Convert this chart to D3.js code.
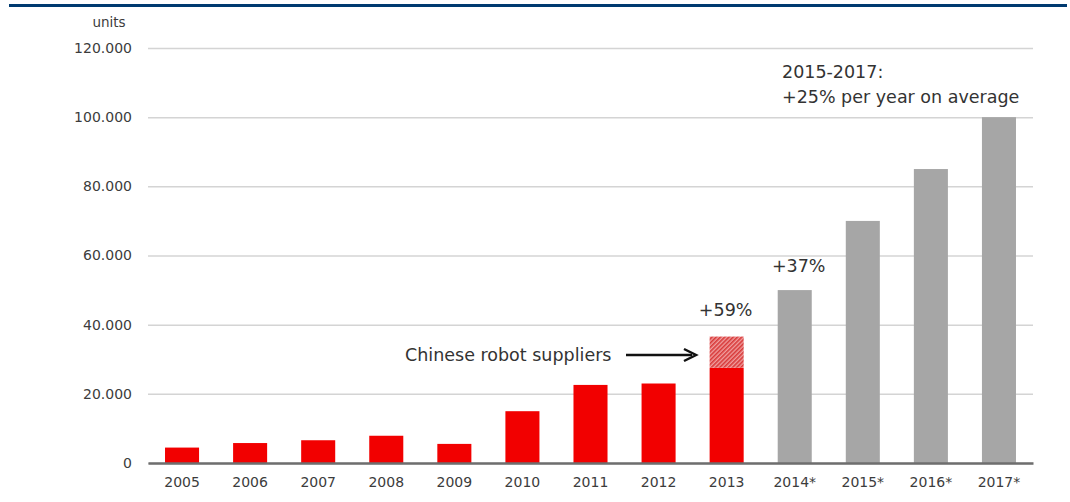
<!DOCTYPE html>
<html>
<head>
<meta charset="utf-8">
<script src="https://d3js.org/d3.v7.min.js"></script>
<style>
  body { margin: 0; background: #fff; }
  text { font-family: "DejaVu Sans", "Liberation Sans", Arial, sans-serif; }
</style>
</head>
<body>
<script>
// data
const years = ["2005","2006","2007","2008","2009","2010","2011","2012","2013","2014*","2015*","2016*","2017*"];
const units = [4461, 5770, 6581, 7879, 5525, 14978, 22577, 22987, 36560, 50000, 70000, 85000, 100000];
const chineseShare = [0, 0, 0, 0, 0, 0, 0, 0, 9000, 0, 0, 0, 0];   // hatched part of 2013
const forecast = [false,false,false,false,false,false,false,false,false,true,true,true,true];
const yTicks = [0, 20000, 40000, 60000, 80000, 100000, 120000];
const tickLabels = ["0","20.000","40.000","60.000","80.000","100.000","120.000"];

const width = 1070, height = 502;
const mLeft = 148, mRight = 1033, mTop = 48, mBottom = 463;

const svg = d3.select("body").append("svg")
    .attr("width", width)
    .attr("height", height);

// hatch pattern for the chinese suppliers part
const defs = svg.append("defs");
const pat = defs.append("pattern")
    .attr("id", "hatch")
    .attr("patternUnits", "userSpaceOnUse")
    .attr("width", 3).attr("height", 3)
    .attr("patternTransform", "rotate(45)");
pat.append("rect").attr("width", 3).attr("height", 3).attr("fill", "#f0a0a0");
pat.append("rect").attr("width", 1.6).attr("height", 3).attr("fill", "#d83838");

// blue rule at the top
svg.append("rect")
    .attr("x", 9).attr("y", 4)
    .attr("width", 1058).attr("height", 3)
    .attr("fill", "#003a70");

const x = d3.scaleBand()
    .domain(years)
    .range([mLeft, mRight])
    .paddingInner(0.5)
    .paddingOuter(0.25);

const y = d3.scaleLinear()
    .domain([0, 120000])
    .range([mBottom, mTop]);

// gridlines + y labels
const yAxis = svg.append("g")
    .attr("transform", `translate(${mLeft},0)`)
    .call(d3.axisLeft(y)
        .tickValues(yTicks)
        .tickSize(-(mRight - mLeft))
        .tickPadding(16)
        .tickFormat((d, i) => tickLabels[i]));
yAxis.select(".domain").remove();
yAxis.selectAll(".tick line").attr("stroke", "#d4d4d4").attr("stroke-width", 1.5);
yAxis.selectAll(".tick text")
    .attr("fill", "#3c3c3c")
    .style("font-size", "14px");

svg.append("text")
    .attr("x", 109).attr("y", 27)
    .attr("text-anchor", "middle")
    .attr("fill", "#3c3c3c")
    .style("font-size", "13.5px")
    .text("units");

// bars
const data = years.map((d, i) => ({year: d, value: units[i], cn: chineseShare[i], fc: forecast[i]}));

svg.selectAll("rect.bar")
    .data(data)
    .join("rect")
    .attr("class", "bar")
    .attr("x", d => x(d.year))
    .attr("y", d => y(d.value - d.cn))
    .attr("width", x.bandwidth())
    .attr("height", d => y(0) - y(d.value - d.cn))
    .attr("fill", d => d.fc ? "#a6a6a6" : "#f20000");

svg.selectAll("rect.cn")
    .data(data.filter(d => d.cn > 0))
    .join("rect")
    .attr("class", "cn")
    .attr("x", d => x(d.year))
    .attr("y", d => y(d.value))
    .attr("width", x.bandwidth())
    .attr("height", d => y(d.value - d.cn) - y(d.value))
    .attr("fill", "url(#hatch)");

// x axis
const xAxis = svg.append("g")
    .attr("transform", `translate(0,${mBottom})`)
    .call(d3.axisBottom(x).tickSize(0).tickPadding(14));
xAxis.select(".domain").attr("stroke", "#6e6e6e").attr("stroke-width", 2.5);
xAxis.selectAll(".tick text")
    .attr("fill", "#3c3c3c")
    .style("font-size", "14px");

// annotations
const annoColor = "#333";
svg.append("text")
    .attr("x", x("2013") + x.bandwidth() / 2 - 1).attr("y", 316)
    .attr("text-anchor", "middle")
    .attr("fill", annoColor).style("font-size", "17.5px")
    .text("+59%");

svg.append("text")
    .attr("x", x("2014*") + x.bandwidth() / 2 + 4).attr("y", 272)
    .attr("text-anchor", "middle")
    .attr("fill", annoColor).style("font-size", "17.5px")
    .text("+37%");

const t = svg.append("text")
    .attr("x", 782).attr("y", 78)
    .attr("fill", annoColor).style("font-size", "17.5px");
t.append("tspan").attr("x", 782).text("2015-2017:");
t.append("tspan").attr("x", 782).attr("dy", 25).text("+25% per year on average");

svg.append("text")
    .attr("x", 405).attr("y", 361)
    .attr("fill", annoColor).style("font-size", "17.5px")
    .text("Chinese robot suppliers");

// arrow
const ay = 355;
svg.append("line")
    .attr("x1", 626).attr("y1", ay)
    .attr("x2", 692).attr("y2", ay)
    .attr("stroke", "#111").attr("stroke-width", 2.5);
svg.append("path")
    .attr("d", `M684,${ay - 6} L696,${ay} L684,${ay + 6}`)
    .attr("fill", "none")
    .attr("stroke", "#111").attr("stroke-width", 2.5);
</script>
</body>
</html>
